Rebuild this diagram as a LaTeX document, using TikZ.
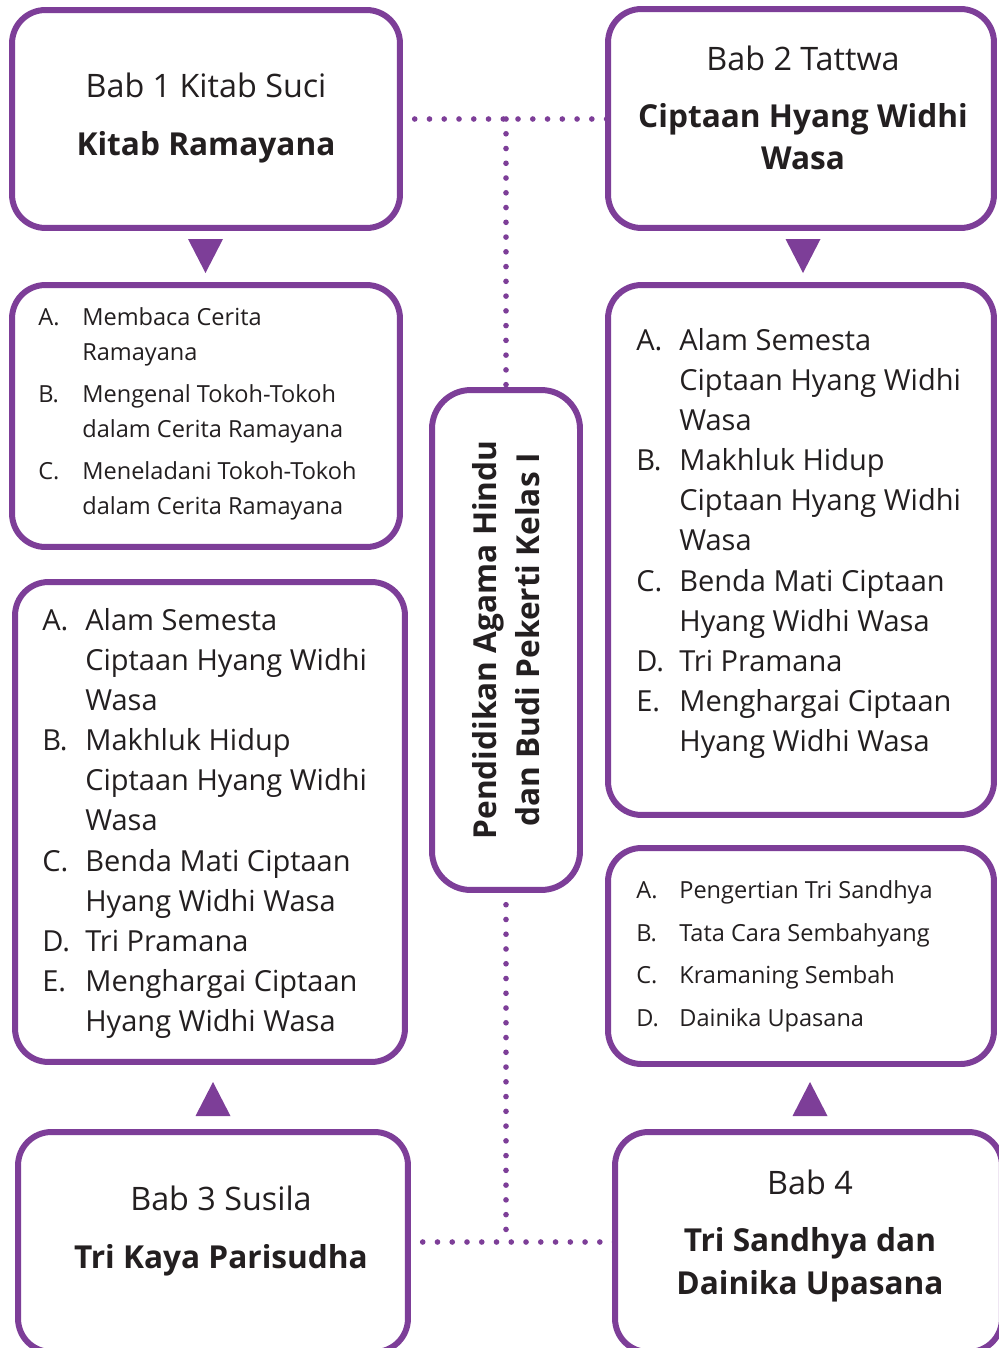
\documentclass[tikz,border=0pt]{standalone}
\usepackage{fontspec}
\setmainfont{Open Sans}
\usepackage{tikz}
\usetikzlibrary{positioning}
\definecolor{bookpurple}{HTML}{7D3E98}
\definecolor{inkgray}{HTML}{231F20}

\begin{document}
\begin{tikzpicture}[
    x=0.02cm, y=-0.02cm,
    frame/.style={rectangle, draw=bookpurple, line width=3.4pt, rounded corners=19pt,
                  inner sep=0pt, outer sep=0pt, fill=white},
    dots/.style={draw=bookpurple, line width=3.2pt, line cap=round, dash pattern=on 0pt off 8.4pt},
    head/.style={text=inkgray, font=\fontsize{18.4}{22}\selectfont, anchor=base, inner sep=0pt},
    headb/.style={text=inkgray, font=\fontsize{18}{22}\selectfont\bfseries, anchor=base, inner sep=0pt},
    big/.style={text=inkgray, font=\fontsize{16.5}{19}\selectfont, anchor=base west, inner sep=0pt},
    small/.style={text=inkgray, font=\fontsize{13.4}{15}\selectfont, anchor=base west, inner sep=0pt}
]
  \useasboundingbox (0,0) rectangle (999,1348);
  \clip (0,0) rectangle (999,1348);

  % Chapter boxes
  \node[frame, minimum width=7.76cm, minimum height=4.36cm] (bab1) at (206,119) {};
  \node[frame, minimum width=7.72cm, minimum height=4.38cm] (bab2) at (801,118.5) {};
  \node[frame, minimum width=7.8cm, minimum height=4.4cm] (bab3) at (213,1242) {};
  \node[frame, minimum width=7.74cm, minimum height=4.4cm] (bab4) at (808.5,1242) {};

  % Topic boxes
  \node[frame, minimum width=7.76cm, minimum height=5.24cm] (topic1) at (206,416) {};
  \node[frame, minimum width=7.72cm, minimum height=10.6cm] (topic2) at (801,550) {};
  \node[frame, minimum width=7.8cm, minimum height=9.6cm] (topic3) at (210,822) {};
  \node[frame, minimum width=7.72cm, minimum height=4.32cm] (topic4) at (801,956) {};

  % Book title
  \node[frame, rounded corners=22pt, minimum width=2.96cm, minimum height=10cm] (mid) at (506,640) {};
  \node[text=inkgray, font=\fontsize{18}{24.4}\selectfont\bfseries, rotate=90, align=center]
    (midtext) at (mid.center) {Pendidikan Agama Hindu\\dan Budi Pekerti Kelas I};

  % Dotted links
  \coordinate (topjoin) at (mid.north |- bab1.east);
  \coordinate (botjoin) at (mid.south |- bab3.east);
  \draw[dots] (bab1.east) -- (bab1.east -| bab2.west);
  \draw[dots] (topjoin) -- (mid.north);
  \draw[dots] (bab3.east) -- (bab3.east -| bab4.west);
  \draw[dots] (mid.south) -- (botjoin);

  % Markers
  \fill[bookpurple] (205.5,239) ++(-17.5,0) -- ++(35,0) -- ++(-17.5,34) -- cycle;
  \fill[bookpurple] (803,239) ++(-17.5,0) -- ++(35,0) -- ++(-17.5,34) -- cycle;
  \fill[bookpurple] (213,1082) ++(-17.5,34) -- ++(35,0) -- ++(-17.5,-34) -- cycle;
  \fill[bookpurple] (810,1082) ++(-17.5,34) -- ++(35,0) -- ++(-17.5,-34) -- cycle;

  % Headings
  \node[head] (h1a) at (206,98) {Bab 1 Kitab Suci};
  \node[headb] (h1b) at (206,156) {Kitab Ramayana};
  \node[head] (h2a) at (803,71) {Bab 2 Tattwa};
  \node[headb] (h2b) at (803,128) {Ciptaan Hyang Widhi};
  \node[headb] (h2c) at (803,170) {Wasa};
  \node[head] (h3a) at (221,1210) {Bab 3 Susila};
  \node[headb] (h3b) at (221,1268) {Tri Kaya Parisudha};
  \node[head] (h4a) at (810,1194) {Bab 4};
  \node[headb] (h4b) at (810,1251) {Tri Sandhya dan};
  \node[headb] (h4c) at (810,1294) {Dainika Upasana};

  % Topics of Bab 1
  \foreach \y/\k [count=\i] in {325/A., 402/B., 479/C.}
    \node[small] (k1-\i) at (38,\y) {\k};
  \foreach \y/\t [count=\i] in {325/Membaca Cerita, 360/Ramayana,
      402/Mengenal Tokoh-Tokoh, 437/dalam Cerita Ramayana,
      479/Meneladani Tokoh-Tokoh, 514/dalam Cerita Ramayana}
    \node[small] (l1-\i) at (82,\y) {\t};

  % Topics of Bab 2 and Bab 3
  \foreach \dx/\dy/\b in {0/0/r, -594/280/s} {
    \foreach \y/\k [count=\i] in {350/A., 470/B., 591/C., 671/D., 711/E.}
      \node[big] (k\b-\i) at (636+\dx,\y+\dy) {\k};
    \foreach \y/\t [count=\i] in {350/Alam Semesta, 390/Ciptaan Hyang Widhi, 430/Wasa,
        470/Makhluk Hidup, 510/Ciptaan Hyang Widhi, 550/Wasa,
        591/Benda Mati Ciptaan, 631/Hyang Widhi Wasa, 671/Tri Pramana,
        711/Menghargai Ciptaan, 751/Hyang Widhi Wasa}
      \node[big] (l\b-\i) at (679+\dx,\y+\dy) {\t};
  }

  % Topics of Bab 4
  \foreach \y/\k/\t [count=\i] in {898/A./Pengertian Tri Sandhya, 941/B./Tata Cara Sembahyang,
      983/C./Kramaning Sembah, 1026/D./Dainika Upasana} {
    \node[small] (k4-\i) at (636,\y) {\k};
    \node[small] (l4-\i) at (679,\y) {\t};
  }
\end{tikzpicture}
\end{document}
